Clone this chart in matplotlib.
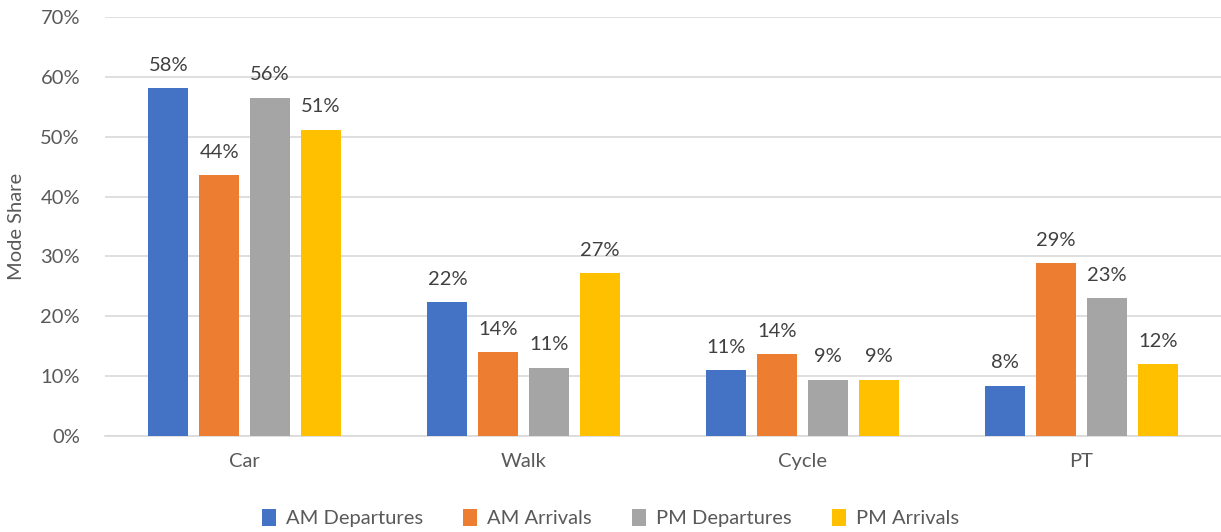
import numpy as np
import matplotlib.pyplot as plt
from matplotlib.ticker import PercentFormatter

plt.rcParams['font.family'] = ['Lato', 'DejaVu Sans']

# data
modes = ["Car", "Walk", "Cycle", "PT"]
series = ["AM Departures", "AM Arrivals", "PM Departures", "PM Arrivals"]
am_dep = [58.1, 22.4, 11.0, 8.4]
am_arr = [43.6, 14.0, 13.7, 28.9]
pm_dep = [56.5, 11.4, 9.4, 23.0]
pm_arr = [51.2, 27.2, 9.4, 12.0]
colors = ["#4472C4", "#ED7D31", "#A5A5A5", "#FFC000"]

fig = plt.figure(figsize=(12.21, 5.32), dpi=100)
ax = fig.add_axes([0.086, 0.1805, 0.914, 0.7875])

x = np.arange(len(modes))
w = 0.143
step = 0.182
for i, (vals, lab) in enumerate(zip([am_dep, am_arr, pm_dep, pm_arr], series)):
    pos = x + (i - 1.5) * step
    bars = ax.bar(pos, vals, w, color=colors[i], label=lab, zorder=3)
    for b, v in zip(bars, vals):
        ax.text(b.get_x() + b.get_width() / 2, v + 2.4, f"{round(v):.0f}%",
                ha="center", va="bottom", fontsize=14.5, color="#404040")

ax.set_xlim(-0.5, 3.5)
ax.set_ylim(0, 70)
ax.set_yticks(np.arange(0, 71, 10))
ax.yaxis.set_major_formatter(PercentFormatter(decimals=0))
ax.set_xticks(x)
ax.set_xticklabels(modes)
ax.tick_params(axis="both", length=0, labelsize=14.5, labelcolor="#595959")
ax.tick_params(axis="x", pad=12)
ax.tick_params(axis="y", pad=18)
ax.grid(axis="y", color="#d9d9d9", linewidth=1.2, zorder=0)
for s in ["top", "right", "left"]:
    ax.spines[s].set_visible(False)
ax.spines["bottom"].set_color("#d9d9d9")
ax.spines["bottom"].set_linewidth(1.2)
ax.set_ylabel("Mode Share", fontsize=14.5, color="#595959")
ax.yaxis.set_label_coords(-0.072, 0.5)

fig.legend(loc="lower center", ncol=4, frameon=False, fontsize=14.5,
           bbox_to_anchor=(0.5, -0.025), handlelength=0.7, handleheight=0.9,
           columnspacing=2.0, handletextpad=0.5, labelcolor="#595959")

fig.savefig("out.png", dpi=100)
